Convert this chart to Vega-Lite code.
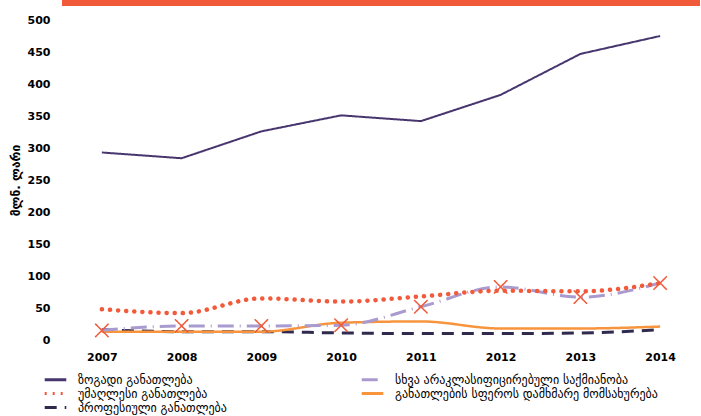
{
  "$schema": "https://vega.github.io/schema/vega-lite/v6.json",
  "width": 638,
  "height": 320,
  "autosize": {"type": "none"},
  "padding": {"left": 62, "top": 20, "right": 1, "bottom": 76},
  "background": "white",
  "config": {
    "view": {"stroke": null},
    "font": "DejaVu Sans"
  },
  "datasets": {
    "band": [{"top": 531.5, "bottom": 522}]
  },
  "data": {
    "values": [
      {"year": "2007", "series": "ზოგადი განათლება", "value": 293},
      {"year": "2008", "series": "ზოგადი განათლება", "value": 284},
      {"year": "2009", "series": "ზოგადი განათლება", "value": 326},
      {"year": "2010", "series": "ზოგადი განათლება", "value": 351},
      {"year": "2011", "series": "ზოგადი განათლება", "value": 342},
      {"year": "2012", "series": "ზოგადი განათლება", "value": 383},
      {"year": "2013", "series": "ზოგადი განათლება", "value": 447},
      {"year": "2014", "series": "ზოგადი განათლება", "value": 475},
      {"year": "2007", "series": "სხვა არაკლასიფიცირებული საქმიანობა", "value": 15},
      {"year": "2008", "series": "სხვა არაკლასიფიცირებული საქმიანობა", "value": 22},
      {"year": "2009", "series": "სხვა არაკლასიფიცირებული საქმიანობა", "value": 22},
      {"year": "2010", "series": "სხვა არაკლასიფიცირებული საქმიანობა", "value": 23},
      {"year": "2011", "series": "სხვა არაკლასიფიცირებული საქმიანობა", "value": 52},
      {"year": "2012", "series": "სხვა არაკლასიფიცირებული საქმიანობა", "value": 83},
      {"year": "2013", "series": "სხვა არაკლასიფიცირებული საქმიანობა", "value": 67},
      {"year": "2014", "series": "სხვა არაკლასიფიცირებული საქმიანობა", "value": 89},
      {"year": "2007", "series": "უმაღლესი განათლება", "value": 48},
      {"year": "2008", "series": "უმაღლესი განათლება", "value": 42},
      {"year": "2009", "series": "უმაღლესი განათლება", "value": 65},
      {"year": "2010", "series": "უმაღლესი განათლება", "value": 60},
      {"year": "2011", "series": "უმაღლესი განათლება", "value": 68},
      {"year": "2012", "series": "უმაღლესი განათლება", "value": 77},
      {"year": "2013", "series": "უმაღლესი განათლება", "value": 76},
      {"year": "2014", "series": "უმაღლესი განათლება", "value": 89},
      {"year": "2007", "series": "განათლების სფეროს დამხმარე მომსახურება", "value": 13},
      {"year": "2008", "series": "განათლების სფეროს დამხმარე მომსახურება", "value": 13},
      {"year": "2009", "series": "განათლების სფეროს დამხმარე მომსახურება", "value": 13},
      {"year": "2010", "series": "განათლების სფეროს დამხმარე მომსახურება", "value": 27},
      {"year": "2011", "series": "განათლების სფეროს დამხმარე მომსახურება", "value": 29},
      {"year": "2012", "series": "განათლების სფეროს დამხმარე მომსახურება", "value": 18},
      {"year": "2013", "series": "განათლების სფეროს დამხმარე მომსახურება", "value": 18},
      {"year": "2014", "series": "განათლების სფეროს დამხმარე მომსახურება", "value": 21},
      {"year": "2007", "series": "პროფესიული განათლება", "value": 16},
      {"year": "2008", "series": "პროფესიული განათლება", "value": 13},
      {"year": "2009", "series": "პროფესიული განათლება", "value": 13},
      {"year": "2010", "series": "პროფესიული განათლება", "value": 11},
      {"year": "2011", "series": "პროფესიული განათლება", "value": 10},
      {"year": "2012", "series": "პროფესიული განათლება", "value": 10},
      {"year": "2013", "series": "პროფესიული განათლება", "value": 11},
      {"year": "2014", "series": "პროფესიული განათლება", "value": 16}
    ]
  },
  "layer": [
    {
      "data": {"name": "band"},
      "mark": {"type": "rect", "color": "#f05a38", "clip": false},
      "encoding": {
        "y": {"field": "top", "type": "quantitative", "scale": {"domain": [0, 500]},
          "axis": {"title": "მლნ. ლარი", "values": [0,50,100,150,200,250,300,350,400,450,500], "grid": false, "domain": false, "ticks": false, "labelPadding": 12, "labelFontSize": 11, "labelFontWeight": "bold", "labelColor": "#000", "titleFontSize": 12, "titleFontWeight": "bold", "titleColor": "#000", "titlePadding": 5}},
        "y2": {"field": "bottom"}
      }
    },
    {
      "encoding": {
        "x": {
          "field": "year", "type": "ordinal",
          "scale": {"type": "point", "padding": 0.5},
          "axis": {"title": null, "labelAngle": 0, "domain": false, "ticks": false, "labelPadding": 11, "labelFontSize": 11, "labelFontWeight": "bold", "labelColor": "#000"}
        },
        "y": {
          "field": "value", "type": "quantitative",
          "scale": {"domain": [0, 500]},
          "axis": {"title": "მლნ. ლარი", "values": [0,50,100,150,200,250,300,350,400,450,500], "grid": false, "domain": false, "ticks": false, "labelPadding": 12, "labelFontSize": 11, "labelFontWeight": "bold", "labelColor": "#000", "titleFontSize": 12, "titleFontWeight": "bold", "titleColor": "#000", "titlePadding": 5}
        },
        "color": {
          "field": "series", "type": "nominal",
          "scale": {
            "domain": ["ზოგადი განათლება", "უმაღლესი განათლება", "პროფესიული განათლება", "სხვა არაკლასიფიცირებული საქმიანობა", "განათლების სფეროს დამხმარე მომსახურება"],
            "range": ["#47366e", "#f15a3a", "#2f2a4e", "#a99bcf", "#f7943c"]
          },
          "legend": {
            "title": null, "orient": "none", "legendX": -14, "legendY": 352, "columns": 2,
            "symbolType": "M-1.8,0L1.8,0", "symbolSize": 144, "symbolStrokeWidth": 3,
            "labelFontSize": 12, "labelColor": "#000", "rowPadding": 0, "columnPadding": 128, "labelOffset": 15, "labelLimit": 400
          }
        },
        "strokeDash": {
          "field": "series", "type": "nominal",
          "scale": {
            "domain": ["ზოგადი განათლება", "უმაღლესი განათლება", "პროფესიული განათლება", "სხვა არაკლასიფიცირებული საქმიანობა", "განათლების სფეროს დამხმარე მომსახურება"],
            "range": [[1, 0], [2, 6], [12, 8], [16, 6, 1, 6], [1, 0]]
          },
          "legend": null
        }
      },
      "layer": [
        {
          "transform": [{"filter": "datum.series === 'ზოგადი განათლება'"}],
          "mark": {"type": "line", "strokeWidth": 2}
        },
        {
          "transform": [{"filter": "datum.series === 'პროფესიული განათლება'"}],
          "mark": {"type": "line", "strokeWidth": 3, "interpolate": "monotone"}
        },
        {
          "transform": [{"filter": "datum.series === 'განათლების სფეროს დამხმარე მომსახურება'"}],
          "mark": {"type": "line", "strokeWidth": 2.5, "interpolate": "monotone"}
        },
        {
          "transform": [{"filter": "datum.series === 'სხვა არაკლასიფიცირებული საქმიანობა'"}],
          "mark": {"type": "line", "strokeWidth": 3, "interpolate": "monotone"}
        },
        {
          "transform": [{"filter": "datum.series === 'უმაღლესი განათლება'"}],
          "mark": {"type": "line", "strokeWidth": 4.5, "interpolate": "monotone", "strokeCap": "round"},
          "encoding": {
            "strokeDash": {"value": [0.1, 8]}
          }
        },
        {
          "transform": [{"filter": "datum.series === 'სხვა არაკლასიფიცირებული საქმიანობა'"}],
          "mark": {"type": "point", "shape": "M-1,-1L1,1M-1,1L1,-1", "filled": false, "size": 180, "strokeWidth": 1.5, "color": "#f15a3a", "opacity": 1},
          "encoding": {"color": {"value": "#f15a3a"}, "strokeDash": {"value": [1, 0]}}
        }
      ]
    }
  ]
}
